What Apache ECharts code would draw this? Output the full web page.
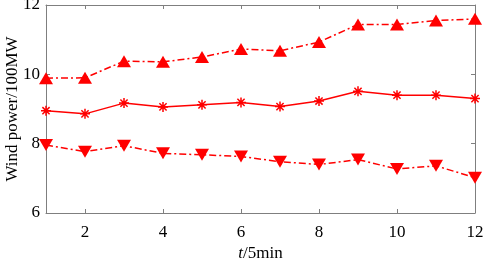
<!DOCTYPE html>
<html>
<head>
<meta charset="utf-8">
<script src="https://cdn.jsdelivr.net/npm/echarts@6/dist/echarts.min.js"></script>
<style>
  html, body { margin: 0; padding: 0; background: #fff; }
  #chart { width: 484px; height: 259px; }
</style>
</head>
<body>
<div id="chart"></div>
<script>
// 数据
var steps = [1, 2, 3, 4, 5, 6, 7, 8, 9, 10, 11, 12];
var upper = [9.89, 9.90, 10.38, 10.36, 10.50, 10.73, 10.68, 10.93, 11.44, 11.44, 11.55, 11.60];
var middle = [8.95, 8.86, 9.17, 9.06, 9.12, 9.19, 9.07, 9.23, 9.51, 9.40, 9.40, 9.30];
var lower = [7.96, 7.77, 7.94, 7.72, 7.68, 7.63, 7.48, 7.40, 7.54, 7.27, 7.36, 7.02];
var xTicks = [2, 4, 6, 8, 10, 12];

function pairs(vals) {
  return steps.map(function (s, i) { return [s, vals[i]]; });
}

var red = '#ff0000';
var axisGray = '#7f7f7f';
var font = 'Liberation Serif';
var fs = 17;
var asterisk = 'path://M0,-5L0,5M-5,0L5,0M-3.6,-3.6L3.6,3.6M-3.6,3.6L3.6,-3.6';

var myChart = echarts.init(document.getElementById('chart'));

var option = {
  animation: false,
  grid: { left: 46, right: 9, top: 5, bottom: 46, outerBoundsMode: 'none', containLabel: false },
  xAxis: [{
    type: 'value', min: 1, max: 12,
    name: '{i|t}/5min', nameLocation: 'middle', nameGap: 32, nameMoveOverlap: false,
    nameTextStyle: { fontFamily: font, fontSize: fs, color: '#000', verticalAlign: 'top',
      rich: { i: { fontFamily: font, fontSize: fs, fontStyle: 'italic', color: '#000' } } },
    axisLine: { show: true, lineStyle: { color: axisGray } },
    axisTick: { show: true, inside: true, length: 4, customValues: xTicks, lineStyle: { color: axisGray } },
    axisLabel: { customValues: xTicks, fontFamily: font, fontSize: fs, color: '#000', margin: 11 },
    splitLine: { show: false }
  }, {
    type: 'value', min: 1, max: 12, position: 'top',
    axisLine: { show: true, lineStyle: { color: axisGray } },
    axisTick: { show: true, inside: true, length: 4, customValues: xTicks, lineStyle: { color: axisGray } },
    axisLabel: { show: false },
    splitLine: { show: false }
  }],
  yAxis: [{
    type: 'value', min: 6, max: 12, interval: 2,
    name: 'Wind power/100MW', nameLocation: 'middle', nameGap: 25, nameMoveOverlap: false,
    nameTextStyle: { fontFamily: font, fontSize: fs, color: '#000' },
    axisLine: { show: true, lineStyle: { color: axisGray } },
    axisTick: { show: true, inside: true, length: 4, lineStyle: { color: axisGray } },
    axisLabel: { fontFamily: font, fontSize: fs, color: '#000', margin: 6 },
    splitLine: { show: false }
  }, {
    type: 'value', min: 6, max: 12, interval: 2, position: 'right',
    axisLine: { show: true, lineStyle: { color: axisGray } },
    axisTick: { show: true, inside: true, length: 4, lineStyle: { color: axisGray } },
    axisLabel: { show: false },
    splitLine: { show: false }
  }],
  series: [{
    name: 'upper', type: 'line', data: pairs(upper), clip: false,
    symbol: 'triangle', symbolSize: [14, 12],
    lineStyle: { color: red, width: 1.5, type: [7, 3, 2, 3] },
    itemStyle: { color: red }
  }, {
    name: 'middle', type: 'line', data: pairs(middle), clip: false,
    symbol: asterisk, symbolSize: 10,
    lineStyle: { color: red, width: 1.5 },
    itemStyle: { color: red, borderColor: red, borderWidth: 1.5 }
  }, {
    name: 'lower', type: 'line', data: pairs(lower), clip: false,
    symbol: 'triangle', symbolRotate: 180, symbolSize: [14, 12],
    lineStyle: { color: red, width: 1.5, type: [7, 3, 2, 3] },
    itemStyle: { color: red }
  }]
};

myChart.setOption(option);
</script>
</body>
</html>
